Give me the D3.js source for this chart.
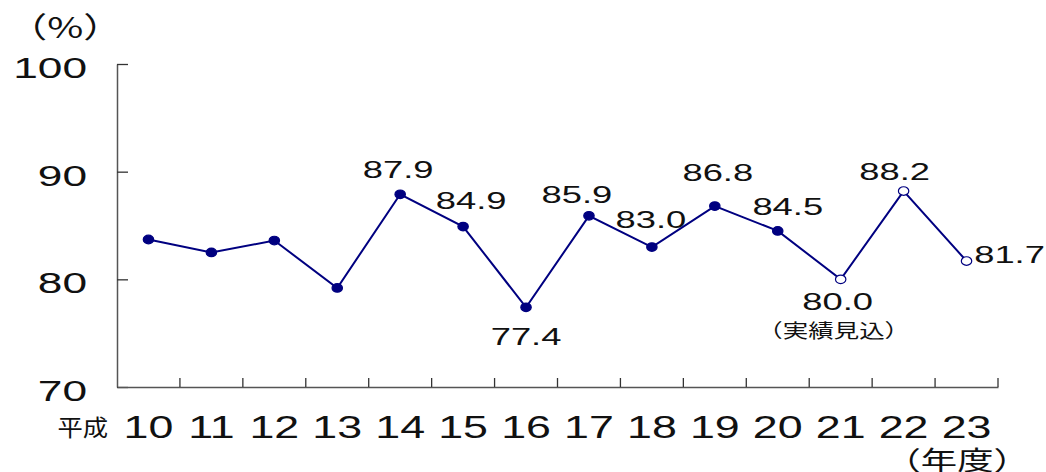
<!DOCTYPE html>
<html>
<head>
<meta charset="utf-8">
<script src="https://cdn.jsdelivr.net/npm/d3@7"></script>
<style>
  body { margin: 0; background: #fff; }
  svg { display: block; }
</style>
</head>
<body>
<div id="chart"></div>
<script>
// Data
const years = ["10", "11", "12", "13", "14", "15", "16", "17", "18", "19", "20", "21", "22", "23"];
const values = [83.7, 82.5, 83.6, 79.2, 87.9, 84.9, 77.4, 85.9, 83.0, 86.8, 84.5, 80.0, 88.2, 81.7];
// estimates (open markers) from 21 onward
const isEstimate = [false, false, false, false, false, false, false, false, false, false, false, true, true, true];
const showLabel = [false, false, false, false, true, true, true, true, true, true, true, true, true, true];
const yTicks = [70, 80, 90, 100];

// label placement relative to each point [dx, dy]
const labelOffsets = [null, null, null, null, [-2, -16], [8, -18], [0, 38], [-12, -13],
  [-1, -19], [3, -25], [10, -16], [-3, 31], [-9, -11], [43, 2]];

const width = 1046, height = 472;
const plot = { left: 117, right: 998, top: 64, bottom: 387 };
const numFont = "'Liberation Sans', Arial, sans-serif";
const cjkFont = "'Noto Sans CJK JP', sans-serif";

const svg = d3.select("#chart").append("svg")
  .attr("width", width)
  .attr("height", height);

const x = d3.scaleBand().domain(years).range([plot.left, plot.right]).padding(0);
const y = d3.scaleLinear().domain([70, 100]).range([plot.bottom, plot.top]);
const cx = (d) => x(d) + x.bandwidth() / 2;

// y axis
const yAxis = svg.append("g")
  .attr("transform", `translate(${plot.left},0)`)
  .call(d3.axisLeft(y).tickValues(yTicks).tickSizeInner(-11).tickSizeOuter(0).tickPadding(30));

yAxis.select(".domain").attr("stroke", "#555").attr("stroke-width", 1.5);
yAxis.selectAll(".tick line").attr("stroke", "#333").attr("stroke-width", 1.3);
yAxis.selectAll(".tick text")
  .attr("x", null)
  .attr("dy", null)
  .attr("transform", "translate(-30,13.5) scale(1.5,1)")
  .attr("text-anchor", "end")
  .attr("font-family", numFont)
  .attr("font-size", 29.5)
  .attr("fill", "#111");

// x axis: labels at band centres
const xAxis = svg.append("g")
  .attr("transform", `translate(0,${plot.bottom})`)
  .call(d3.axisBottom(x).tickSize(0).tickSizeOuter(0));

xAxis.select(".domain").attr("stroke", "#555").attr("stroke-width", 1.5);
xAxis.selectAll(".tick text")
  .attr("y", null)
  .attr("dy", null)
  .attr("transform", "translate(0,51) scale(1.4,1)")
  .attr("font-family", numFont)
  .attr("font-size", 32)
  .attr("fill", "#111");

// boundary ticks pointing up
svg.append("g")
  .selectAll("line")
  .data(years)
  .enter()
  .append("line")
  .attr("x1", (d) => x(d) + x.bandwidth())
  .attr("x2", (d) => x(d) + x.bandwidth())
  .attr("y1", plot.bottom)
  .attr("y2", plot.bottom - 9)
  .attr("stroke", "#333")
  .attr("stroke-width", 1.3);

// unit and axis titles
svg.append("text")
  .attr("transform", "translate(8,38) scale(1.35,1)")
  .attr("font-family", cjkFont)
  .attr("font-size", 29)
  .attr("fill", "#111")
  .text("（%）");

svg.append("text")
  .attr("transform", "translate(108,436) scale(1.1,1)")
  .attr("text-anchor", "end")
  .attr("font-family", cjkFont)
  .attr("font-size", 23)
  .attr("fill", "#111")
  .text("平成");

svg.append("text")
  .attr("transform", "translate(1030,470) scale(1.4,1)")
  .attr("text-anchor", "end")
  .attr("font-family", cjkFont)
  .attr("font-size", 26)
  .attr("fill", "#111")
  .text("（年度）");

// line
const points = years.map((d, i) => ({ year: d, value: values[i], est: isEstimate[i], i }));

const line = d3.line()
  .x((d) => cx(d.year))
  .y((d) => y(d.value));

svg.append("path")
  .datum(points)
  .attr("d", line)
  .attr("fill", "none")
  .attr("stroke", "#000080")
  .attr("stroke-width", 2);

svg.append("g")
  .selectAll("ellipse")
  .data(points)
  .enter()
  .append("ellipse")
  .attr("cx", (d) => cx(d.year))
  .attr("cy", (d) => y(d.value))
  .attr("rx", 5.2)
  .attr("ry", 4.3)
  .attr("fill", (d) => (d.est ? "#fff" : "#000080"))
  .attr("stroke", "#000080")
  .attr("stroke-width", 1.2);

// value labels
const labelled = points.filter((d) => showLabel[d.i]);

svg.append("g")
  .selectAll("text")
  .data(labelled)
  .enter()
  .append("text")
  .attr("transform", (d) => {
    const o = labelOffsets[d.i];
    return `translate(${cx(d.year) + o[0]},${y(d.value) + o[1]}) scale(1.58,1)`;
  })
  .attr("text-anchor", "middle")
  .attr("font-family", numFont)
  .attr("font-size", 23)
  .attr("fill", "#111")
  .text((d) => d.value.toFixed(1));

// note under the first estimate
const firstEst = points.find((d) => d.est);
svg.append("text")
  .attr("transform", `translate(${cx(firstEst.year) - 7},${y(firstEst.value) + 59}) scale(1.34,1)`)
  .attr("text-anchor", "middle")
  .attr("font-family", cjkFont)
  .attr("font-size", 19)
  .attr("fill", "#111")
  .text("（実績見込）");
</script>
</body>
</html>
